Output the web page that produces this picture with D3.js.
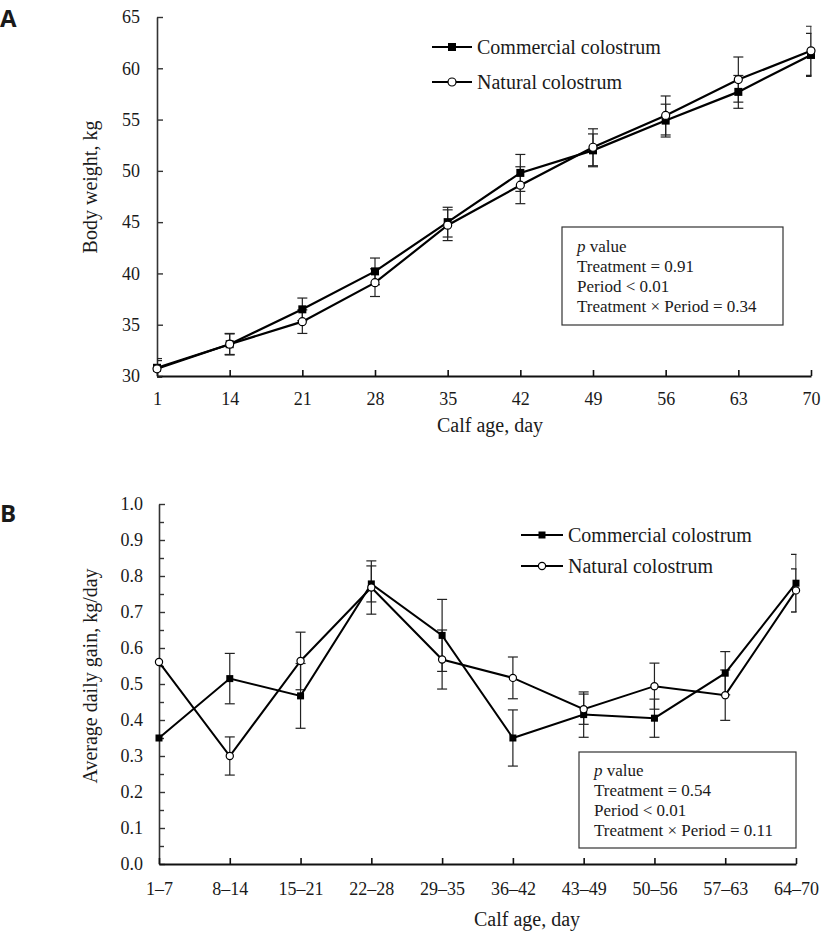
<!DOCTYPE html>
<html>
<head>
<meta charset="utf-8">
<script src="https://cdn.jsdelivr.net/npm/d3@7"></script>
<style>
  body { margin: 0; background: #fff; }
  svg { display: block; }
  text { font-family: "Liberation Serif", "Times New Roman", serif; fill: #1a1a1a; }
</style>
</head>
<body>
<svg id="chart" width="827" height="932"></svg>
<script>
// ---------- Data ----------
// Panel A: body weight
const daysA = ["1", "14", "21", "28", "35", "42", "49", "56", "63", "70"];
const bwCommercial   = [30.8, 33.1, 36.5, 40.2, 45.0, 49.8, 52.0, 54.9, 57.7, 61.3];
const bwCommercialSE = [0.9, 1.05, 1.1, 1.3, 1.45, 1.8, 1.6, 1.6, 1.6, 2.1];
const bwNatural      = [30.7, 33.1, 35.3, 39.1, 44.7, 48.6, 52.3, 55.4, 58.9, 61.7];
const bwNaturalSE    = [0.8, 1.0, 1.15, 1.35, 1.5, 1.8, 1.8, 1.9, 2.2, 2.4];
const ticksA = [30, 35, 40, 45, 50, 55, 60, 65];
const pTextA = ["value", "Treatment = 0.91", "Period < 0.01", "Treatment × Period = 0.34"];

// Panel B: average daily gain
const periodsB = ["1–7", "8–14", "15–21", "22–28", "29–35", "36–42", "43–49", "50–56", "57–63", "64–70"];
const adgCommercial   = [0.35, 0.515, 0.467, 0.778, 0.635, 0.35, 0.415, 0.405, 0.53, 0.78];
const adgCommercialSE = [0, 0.07, 0.09, 0.05, 0.10, 0.078, 0.063, 0.053, 0.06, 0.08];
const adgNatural      = [0.561, 0.30, 0.564, 0.768, 0.568, 0.517, 0.43, 0.494, 0.469, 0.76];
const adgNaturalSE    = [0, 0.053, 0.08, 0.074, 0.082, 0.058, 0.042, 0.064, 0.07, 0.06];
const ticksB = [0, 0.1, 0.2, 0.3, 0.4, 0.5, 0.6, 0.7, 0.8, 0.9, 1.0];
const minorTicksB = [0.05, 0.15, 0.25, 0.35, 0.45, 0.55, 0.65, 0.75, 0.85, 0.95];
const pTextB = ["value", "Treatment = 0.54", "Period < 0.01", "Treatment × Period = 0.11"];

const seriesNames = ["Commercial colostrum", "Natural colostrum"];

const svg = d3.select("#chart");

function panel(cfg) {
  const g = svg.append("g");
  const x = d3.scalePoint().domain(cfg.cats).range([cfg.x0, cfg.x1]);
  const y = d3.scaleLinear().domain(cfg.yDomain).range([cfg.yBottom, cfg.yTop]);

  // clip for error bars
  const clipId = "clip" + cfg.id;
  svg.append("defs").append("clipPath").attr("id", clipId)
    .append("rect").attr("x", cfg.x0).attr("y", 0)
    .attr("width", cfg.x1 - cfg.x0 + 0.5).attr("height", 932);

  // y axis
  const yAxis = d3.axisLeft(y).tickValues(cfg.yTicks).tickFormat(cfg.yFormat)
    .tickSizeInner(-6).tickSizeOuter(0).tickPadding(cfg.yPad);
  const ya = g.append("g").attr("transform", `translate(${cfg.x0},0)`).call(yAxis);
  ya.select(".domain").attr("stroke", "#333").attr("stroke-width", 1.6);
  ya.selectAll(".tick line").attr("stroke", "#333").attr("stroke-width", 1.4);
  ya.selectAll("text").attr("font-size", 18).attr("fill", "#1a1a1a")
    .attr("font-family", "Liberation Serif, serif");
  if (cfg.yMinor) {
    const ym = g.append("g").attr("transform", `translate(${cfg.x0},0)`)
      .call(d3.axisLeft(y).tickValues(cfg.yMinor).tickFormat("").tickSizeInner(-5).tickSizeOuter(0));
    ym.select(".domain").remove();
    ym.selectAll(".tick line").attr("stroke", "#333").attr("stroke-width", 1.4);
  }

  // x axis
  const xAxis = d3.axisBottom(x).tickSizeInner(-6).tickSizeOuter(0).tickPadding(cfg.xPad);
  const xa = g.append("g").attr("transform", `translate(0,${cfg.yBottom})`).call(xAxis);
  xa.select(".domain").attr("stroke", "#111").attr("stroke-width", 2);
  xa.selectAll(".tick line").attr("stroke", "#111").attr("stroke-width", 1.6);
  xa.selectAll("text").attr("font-size", 18).attr("fill", "#1a1a1a")
    .attr("font-family", "Liberation Serif, serif");

  // axis titles
  g.append("text").attr("x", cfg.xTitleX).attr("y", cfg.xTitleY)
    .attr("text-anchor", "middle").attr("font-size", 20).text("Calf age, day");
  g.append("text")
    .attr("transform", `translate(${cfg.yTitleX},${cfg.yTitleY}) rotate(-90)`)
    .attr("text-anchor", "middle").attr("font-size", 20).text(cfg.yTitle);

  const series = [
    { v: cfg.s1, se: cfg.s1se, type: "square" },
    { v: cfg.s2, se: cfg.s2se, type: "circle" }
  ];

  // error bars
  const eb = g.append("g").attr("clip-path", `url(#${clipId})`);
  series.forEach(s => {
    s.v.forEach((v, i) => {
      if (!s.se[i]) return;
      const cx = x(cfg.cats[i]);
      const yt = y(v + s.se[i]), yb = y(v - s.se[i]);
      eb.append("line").attr("x1", cx).attr("x2", cx).attr("y1", yt).attr("y2", yb)
        .attr("stroke", "#222").attr("stroke-width", 1.2);
      [yt, yb].forEach(yy => eb.append("line")
        .attr("x1", cx - cfg.cap).attr("x2", cx + cfg.cap).attr("y1", yy).attr("y2", yy)
        .attr("stroke", "#222").attr("stroke-width", 1.2));
    });
  });

  // lines
  const line = d3.line().x((d, i) => x(cfg.cats[i])).y(d => y(d));
  series.forEach(s => {
    g.append("path").datum(s.v).attr("d", line)
      .attr("fill", "none").attr("stroke", "#000").attr("stroke-width", cfg.lw);
  });

  // markers
  function marker(sel, type, cx, cy) {
    if (type === "square") {
      sel.append("rect").attr("x", cx - cfg.sq / 2).attr("y", cy - cfg.sq / 2)
        .attr("width", cfg.sq).attr("height", cfg.sq).attr("fill", "#000");
    } else {
      sel.append("circle").attr("cx", cx).attr("cy", cy).attr("r", cfg.cr)
        .attr("fill", "#fff").attr("stroke", "#000").attr("stroke-width", 1.2);
    }
  }
  series.forEach(s => {
    s.v.forEach((v, i) => marker(g, s.type, x(cfg.cats[i]), y(v)));
  });

  // legend
  seriesNames.forEach((name, k) => {
    const ly = cfg.legY + k * cfg.legDy;
    g.append("line").attr("x1", cfg.legX).attr("x2", cfg.legX + cfg.legW)
      .attr("y1", ly).attr("y2", ly).attr("stroke", "#000").attr("stroke-width", 2);
    marker(g, series[k].type, cfg.legX + cfg.legW / 2, ly);
    g.append("text").attr("x", cfg.legX + cfg.legW + 5).attr("y", ly).attr("dy", "0.35em")
      .attr("font-size", 20).text(name);
  });

  // p-value box
  g.append("rect").attr("x", cfg.box[0]).attr("y", cfg.box[1])
    .attr("width", cfg.box[2] - cfg.box[0]).attr("height", cfg.box[3] - cfg.box[1])
    .attr("fill", "#fff").attr("stroke", "#333").attr("stroke-width", 1.2);
  cfg.pText.forEach((t, k) => {
    const tx = g.append("text").attr("x", cfg.box[0] + 15).attr("y", cfg.pY + k * 20)
      .attr("font-size", 17);
    if (k === 0) {
      tx.append("tspan").attr("font-style", "italic").text("p");
      tx.append("tspan").text(" " + t);
    } else tx.text(t);
  });

  // panel letter
  g.append("text").attr("x", 0).attr("y", cfg.letterY)
    .attr("font-family", "Open Sans, DejaVu Sans, sans-serif").attr("font-weight", 700)
    .attr("font-size", 24).style("font-family", "'Open Sans', sans-serif").text(cfg.letter);
}

panel({
  id: "A", letter: "A", letterY: 27,
  cats: daysA, x0: 157, x1: 811, yDomain: [30, 65], yTop: 17, yBottom: 376,
  yTicks: ticksA, yFormat: d3.format("d"), yMinor: null, yPad: 17, xPad: 16,
  xTitleX: 490, xTitleY: 432, yTitleX: 97, yTitleY: 187, yTitle: "Body weight, kg",
  s1: bwCommercial, s1se: bwCommercialSE, s2: bwNatural, s2se: bwNaturalSE,
  cap: 5, lw: 2.2, sq: 8, cr: 4,
  legX: 432, legW: 40, legY: 47, legDy: 35,
  box: [562, 227, 783, 325], pText: pTextA, pY: 252
});

panel({
  id: "B", letter: "B", letterY: 522,
  cats: periodsB, x0: 159, x1: 796, yDomain: [0, 1], yTop: 504, yBottom: 864,
  yTicks: ticksB, yFormat: d3.format(".1f"), yMinor: minorTicksB, yPad: 16, xPad: 18,
  xTitleX: 527, xTitleY: 926, yTitleX: 97, yTitleY: 676, yTitle: "Average daily gain, kg/day",
  s1: adgCommercial, s1se: adgCommercialSE, s2: adgNatural, s2se: adgNaturalSE,
  cap: 5, lw: 2, sq: 7, cr: 3.6,
  legX: 521, legW: 42, legY: 535, legDy: 31,
  box: [579, 752, 796, 848], pText: pTextB, pY: 776
});
</script>
</body>
</html>
